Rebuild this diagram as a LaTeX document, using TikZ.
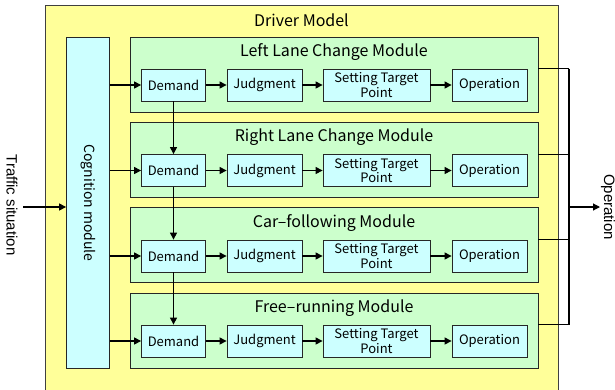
\documentclass[tikz,border=0pt]{standalone}
\usepackage{fontspec}
\setmainfont{Noto Sans CJK JP}
\newfontfamily\arialfont{Liberation Sans}
\usetikzlibrary{arrows.meta}
\definecolor{outerY}{HTML}{FFFF99}
\definecolor{modG}{HTML}{CCFFCC}
\definecolor{boxC}{HTML}{CCFFFF}
\tikzset{
  modbox/.style={draw=black!85, fill=modG, line width=0.8pt, minimum width=408pt, minimum height=75pt, inner sep=0pt},
  inbox/.style={draw=black!85, fill=boxC, line width=0.8pt, minimum height=32pt, inner sep=0pt, font=\fontsize{13}{13}\selectfont, align=center},
  modtitle/.style={font=\fontsize{16}{16}\selectfont},
  arr/.style={line width=1.1pt, -{Triangle[length=7pt,width=7pt]}},
  ln/.style={line width=1.1pt}
}
\begin{document}
\begin{tikzpicture}[x=1pt,y=-1pt]
\useasboundingbox (0,0) rectangle (615,389);
\fill[outerY] (45,5) rectangle (558,400);
\draw[black!75, line width=0.8pt] (45,400) -- (45,5) -- (558,5) -- (558,400);
\node[font=\fontsize{16}{16}\selectfont] (title) at (301.5,20) {Driver Model};
\node[draw=black!85, fill=boxC, line width=0.8pt, minimum width=43pt, minimum height=331pt, inner sep=0pt] (cog) at (88,202.5) {};
\node[font=\fontsize{14}{14}\selectfont, rotate=-90] (cogt) at (88,203) {Cognition module};
\foreach \i/\y/\name in {1/74.5/Left Lane Change Module, 2/159.5/Right Lane Change Module, 3/245/Car\textendash following Module, 4/330.5/Free\textendash running Module}{
  \node[modbox] (m\i) at (334,\y) {};
  \node[modtitle] (t\i) at (334,\y-22) {\name};
}
\foreach \i/\y in {1/85, 2/170.5, 3/256, 4/341}{
  \node[inbox, minimum width=64pt] (d\i) at (173.5,\y) {Demand};
  \node[inbox, minimum width=75pt] (j\i) at (264.5,\y) {Judgment};
  \node[inbox, minimum width=107pt, font=\fontsize{13}{12.5}\selectfont] (s\i) at (376.5,\y) {Setting Target\\Point};
  \node[inbox, minimum width=75pt] (o\i) at (489.5,\y) {Operation};
  \draw[arr] (cog.east |- d\i) -- (d\i.west);
  \draw[arr] (d\i) -- (j\i);
  \draw[arr] (j\i) -- (s\i);
  \draw[arr] (s\i) -- (o\i);
}
\draw[arr] (d1) -- (d2);
\draw[arr] (d2) -- (d3);
\draw[arr] (d3) -- (d4);
\coordinate (bus) at (569,207);
\foreach \i in {1,2,3,4}{
  \draw[ln] (m\i.east |- d\i.north) -- (bus |- d\i.north);
}
\draw[ln] (bus |- d1.north) -- (bus |- d4.north);
\node[font=\arialfont\fontsize{15}{15}\selectfont, rotate=-90] (opt) at (608,207) {Operation};
\node[font=\arialfont\fontsize{15}{15}\selectfont, rotate=-90] (traf) at (12,205) {Traffic situation};
\coordinate (optin) at (600,207);
\coordinate (trafout) at (23,207);
\draw[arr] (bus) -- (optin);
\draw[arr] (trafout) -- (cog.west |- trafout);
\end{tikzpicture}
\end{document}
